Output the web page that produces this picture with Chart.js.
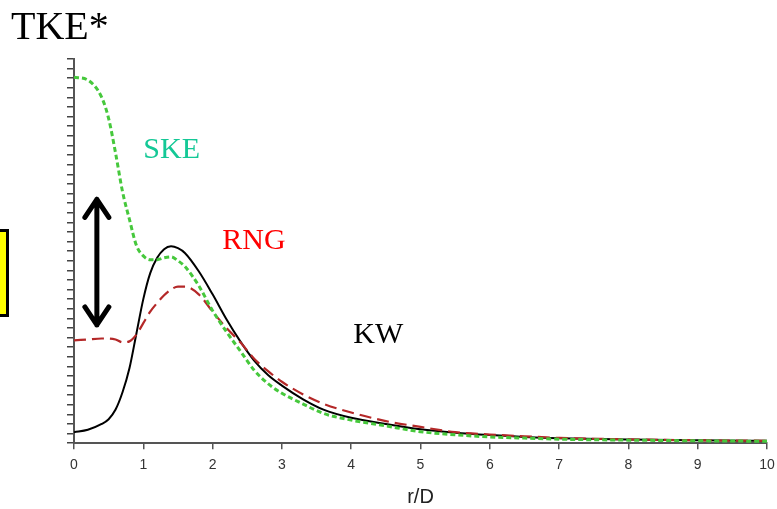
<!DOCTYPE html>
<html>
<head>
<meta charset="utf-8">
<script src="https://cdn.jsdelivr.net/npm/chart.js@4.4.0/dist/chart.umd.min.js"></script>
<style>
  html, body { margin: 0; padding: 0; background: #fff; }
  #wrap { width: 777px; height: 509px; }
</style>
</head>
<body>
<div id="wrap"><canvas id="tkeChart"></canvas></div>
<script>
// r/D positions shared by all three curves
const rD = [0, 0.2, 0.4, 0.5, 0.6, 0.7, 0.8, 0.9, 1.0, 1.1, 1.2, 1.3, 1.4, 1.5, 1.6, 1.8,
  2.0, 2.2, 2.4, 2.6, 2.8, 3.0, 3.3, 3.6, 4.0, 4.5, 5.0, 5.5, 6.0, 6.5, 7.0, 8.0, 9.0, 10.0];

// TKE* (arbitrary units, y axis has no labels)
const skeValues = [38.1, 37.8, 36.0, 33.8, 30.2, 26.2, 23.3, 20.6, 19.5, 19.1, 19.1, 19.3, 19.4, 19.0, 18.4, 16.4,
  13.8, 11.6, 9.6, 7.6, 6.2, 5.2, 4.1, 3.1, 2.4, 1.8, 1.2, 0.88, 0.65, 0.53, 0.42, 0.32, 0.25, 0.2];
const rngValues = [10.7, 10.8, 10.9, 10.9, 10.8, 10.5, 10.6, 11.3, 12.5, 13.7, 14.6, 15.4, 16.0, 16.3, 16.3, 15.5,
  13.7, 12.0, 10.5, 8.8, 7.5, 6.4, 5.1, 4.1, 3.2, 2.3, 1.7, 1.15, 0.9, 0.72, 0.55, 0.4, 0.3, 0.25];
const kwValues = [1.15, 1.4, 2.0, 2.5, 3.5, 5.3, 7.8, 11.4, 15.0, 17.7, 19.3, 20.2, 20.5, 20.3, 19.8, 17.9,
  15.5, 12.9, 10.6, 8.6, 7.1, 6.0, 4.6, 3.5, 2.65, 2.0, 1.45, 1.1, 0.85, 0.65, 0.52, 0.38, 0.3, 0.25];

const xTicks = [0, 1, 2, 3, 4, 5, 6, 7, 8, 9, 10];

// curve labels placed in data coordinates
const curveLabels = [
  { text: "SKE", x: 1.0, y: 29.7, color: "#14c896" },
  { text: "RNG", x: 2.14, y: 20.2, color: "#ff0000" },
  { text: "KW", x: 4.03, y: 10.4, color: "#000000" },
];

const toPoints = (vals) => vals.map((v, i) => ({ x: rD[i], y: v }));

// draws the title, labels, arrow and the clipped yellow box
const decorations = {
  id: "decorations",
  afterDraw(chart) {
    const ctx = chart.ctx;
    const xs = chart.scales.x;
    const ys = chart.scales.y;
    ctx.save();

    // yellow box cut off at the left edge
    ctx.fillStyle = "#ffff00";
    ctx.fillRect(-5, 230, 13, 86);
    ctx.strokeStyle = "#000";
    ctx.lineWidth = 3;
    ctx.strokeRect(-5, 230.5, 12.5, 85);

    ctx.textBaseline = "alphabetic";
    ctx.fillStyle = "#000";
    ctx.font = '40px "Liberation Serif", "Times New Roman", serif';
    ctx.fillText("TKE*", 11, 39);

    ctx.font = '30px "Liberation Serif", "Times New Roman", serif';
    curveLabels.forEach((l) => {
      ctx.fillStyle = l.color;
      ctx.fillText(l.text, xs.getPixelForValue(l.x), ys.getPixelForValue(l.y));
    });

    // double headed arrow
    const ax = xs.getPixelForValue(0.33);
    const top = ys.getPixelForValue(25.6);
    const bot = ys.getPixelForValue(12.1);
    ctx.strokeStyle = "#000";
    ctx.lineWidth = 5;
    ctx.lineCap = "round";
    ctx.lineJoin = "round";
    ctx.beginPath();
    ctx.moveTo(ax, top + 2);
    ctx.lineTo(ax, bot - 2);
    ctx.moveTo(ax - 12, top + 20);
    ctx.lineTo(ax, top + 2);
    ctx.lineTo(ax + 12, top + 20);
    ctx.moveTo(ax - 12, bot - 20);
    ctx.lineTo(ax, bot - 2);
    ctx.lineTo(ax + 12, bot - 20);
    ctx.stroke();

    ctx.restore();
  },
};

new Chart(document.getElementById("tkeChart"), {
  type: "line",
  data: {
    datasets: [
      {
        label: "SKE",
        data: toPoints(skeValues),
        borderColor: "rgb(70, 200, 60)",
        borderWidth: 3,
        borderDash: [5, 3],
        pointRadius: 0,
        cubicInterpolationMode: "monotone",
      },
      {
        label: "RNG",
        data: toPoints(rngValues),
        borderColor: "rgb(180, 40, 40)",
        borderWidth: 2.2,
        borderDash: [12, 6],
        pointRadius: 0,
        cubicInterpolationMode: "monotone",
      },
      {
        label: "KW",
        data: toPoints(kwValues),
        borderColor: "#000",
        borderWidth: 2,
        pointRadius: 0,
        cubicInterpolationMode: "monotone",
      },
    ],
  },
  options: {
    responsive: true,
    maintainAspectRatio: false,
    animation: false,
    layout: { padding: { left: 67, right: 10, top: 59, bottom: 0 } },
    plugins: {
      legend: { display: false },
      tooltip: { enabled: false },
    },
    scales: {
      x: {
        type: "linear",
        min: 0,
        max: 10,
        afterBuildTicks: (scale) => {
          scale.ticks = xTicks.map((v) => ({ value: v }));
        },
        // let the "10" label run off the right edge like the original
        afterFit: (scale) => {
          scale.paddingRight = 0;
        },
        grid: { drawOnChartArea: false, tickLength: 6, color: "#555", lineWidth: 1.5 },
        border: { color: "#555", width: 2 },
        ticks: {
          padding: 8,
          color: "#333",
          font: { family: '"Liberation Sans", Arial, sans-serif', size: 14 },
          maxRotation: 0,
          autoSkip: false,
        },
        title: {
          display: true,
          text: "r/D",
          color: "#222",
          padding: { top: 3, bottom: 0 },
          font: { family: '"Liberation Sans", Arial, sans-serif', size: 20 },
        },
      },
      y: {
        type: "linear",
        min: 0,
        max: 40,
        ticks: { display: false, stepSize: 1 },
        grid: { drawOnChartArea: false, tickLength: 7, color: "#444", lineWidth: 1.5 },
        border: { color: "#555", width: 2 },
      },
    },
  },
  plugins: [decorations],
});
</script>
</body>
</html>
